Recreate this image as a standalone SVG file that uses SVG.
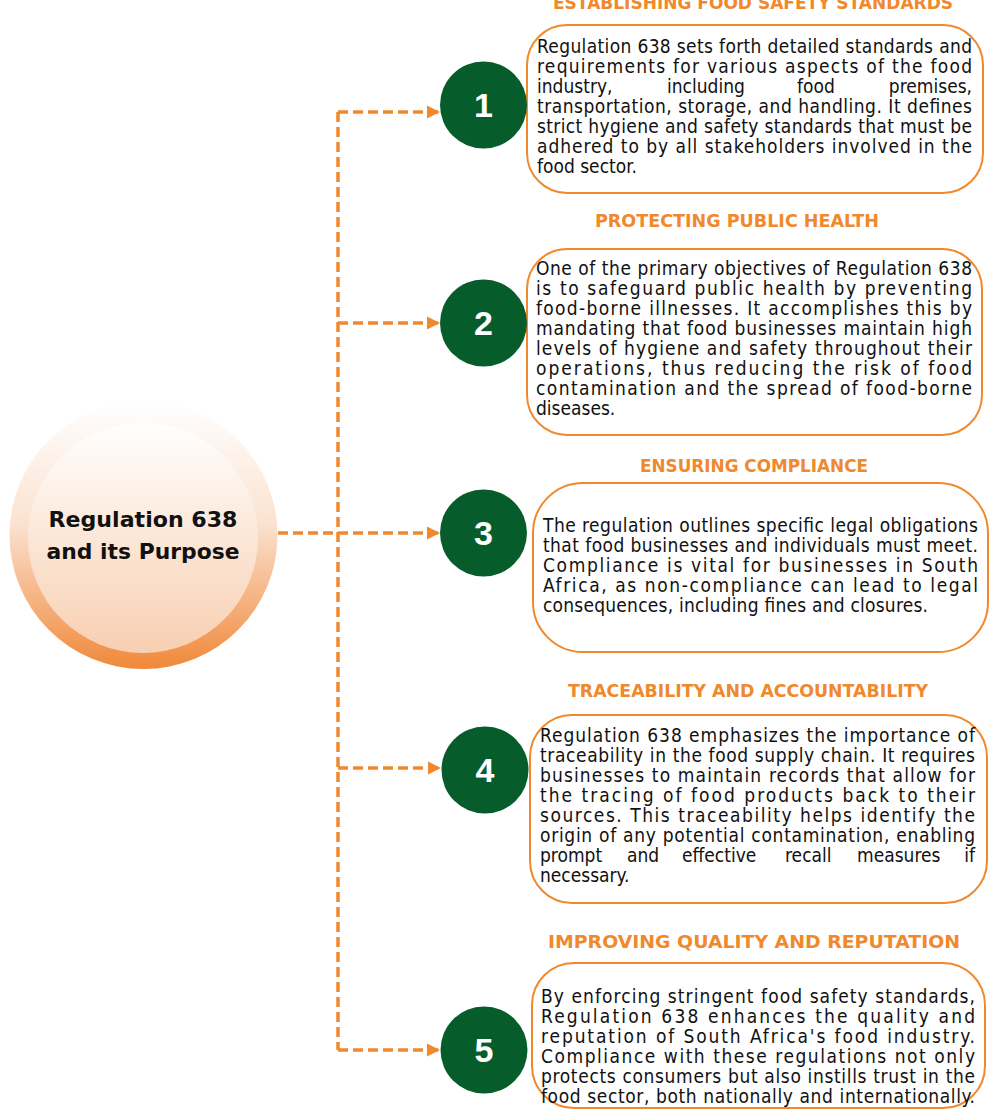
<svg xmlns="http://www.w3.org/2000/svg" width="990" height="1115" viewBox="0 0 990 1115">
<style>
.title{font-family:"DejaVu Sans","Verdana",sans-serif;font-weight:bold;font-size:17.5px;fill:#F0892C;text-anchor:middle}
.body{font-family:"DejaVu Sans","Verdana",sans-serif;font-stretch:condensed;font-size:19px;fill:#111}
.box{fill:#fff;stroke:#F0892C;stroke-width:2}
.num{fill:#075C2B}
.numt{font-family:"Liberation Sans","Arial",sans-serif;font-weight:bold;font-size:34px;fill:#fff;text-anchor:middle}
.conn{fill:none;stroke:#F0892C;stroke-width:3.5;stroke-dasharray:10 5}
.center{font-family:"DejaVu Sans","Verdana",sans-serif;font-weight:bold;font-size:22px;fill:#111;text-anchor:middle}
</style>
<defs>
<linearGradient id="gOuter" x1="0" y1="0" x2="0" y2="1">
<stop offset="0" stop-color="#FFFFFF"/>
<stop offset="0.45" stop-color="#FBE3D2"/>
<stop offset="1" stop-color="#F0883A"/>
</linearGradient>
<linearGradient id="gInner" x1="0" y1="0" x2="0" y2="1">
<stop offset="0" stop-color="#FFFFFF"/>
<stop offset="1" stop-color="#F8CFB1"/>
</linearGradient>
<marker id="arrow" viewBox="0 0 10 10" refX="10" refY="5" markerUnits="userSpaceOnUse" markerWidth="13" markerHeight="14" orient="auto">
<path d="M0,0 L10,5 L0,10 z" fill="#F0892C"/>
</marker>
</defs>

<g id="connectors">
<path class="conn" d="M338,112 V1050"/>
<path class="conn" d="M338,112 H440" marker-end="url(#arrow)"/>
<path class="conn" d="M338,323 H440" marker-end="url(#arrow)"/>
<path class="conn" d="M278,533 H440" marker-end="url(#arrow)"/>
<path class="conn" d="M338,768 H441" marker-end="url(#arrow)"/>
<path class="conn" d="M338,1050 H440" marker-end="url(#arrow)"/>
</g>

<g id="center-node">
<circle cx="143.5" cy="535" r="134" fill="url(#gOuter)"/>
<circle cx="143" cy="538" r="115" fill="url(#gInner)"/>
<text class="center" x="143" y="527" textLength="189" lengthAdjust="spacingAndGlyphs">Regulation 638</text>
<text class="center" x="143" y="559" textLength="193" lengthAdjust="spacingAndGlyphs">and its Purpose</text>
</g>

<g id="node-1">
<text class="title" x="753" y="9" textLength="400" lengthAdjust="spacingAndGlyphs">ESTABLISHING FOOD SAFETY STANDARDS</text>
<rect class="box" x="527" y="25" width="456" height="168" rx="40" ry="40"/>
<circle class="num" cx="483.5" cy="105" r="43.5"/>
<text class="numt" x="483.5" y="117">1</text>
<g class="body">
<text x="537" y="53" textLength="435" lengthAdjust="spacing">Regulation 638 sets forth detailed standards and</text>
<text x="537" y="73" textLength="435" lengthAdjust="spacing">requirements for various aspects of the food</text>
<text y="93"><tspan x="537">industry,</tspan><tspan x="667">including</tspan><tspan x="797">food</tspan><tspan x="972" text-anchor="end">premises,</tspan></text>
<text x="537" y="113" textLength="435" lengthAdjust="spacing">transportation, storage, and handling. It defines</text>
<text x="537" y="133" textLength="435" lengthAdjust="spacing">strict hygiene and safety standards that must be</text>
<text x="537" y="153" textLength="435" lengthAdjust="spacing">adhered to by all stakeholders involved in the</text>
<text x="537" y="173">food sector.</text>
</g>
</g>

<g id="node-2">
<text class="title" x="737" y="227" textLength="284" lengthAdjust="spacingAndGlyphs">PROTECTING PUBLIC HEALTH</text>
<rect class="box" x="527" y="249" width="455" height="186" rx="40" ry="40"/>
<circle class="num" cx="483.5" cy="323" r="43.5"/>
<text class="numt" x="483.5" y="335">2</text>
<g class="body">
<text x="536" y="275" textLength="436" lengthAdjust="spacing">One of the primary objectives of Regulation 638</text>
<text x="536" y="295" textLength="436" lengthAdjust="spacing">is to safeguard public health by preventing</text>
<text x="536" y="315" textLength="436" lengthAdjust="spacing">food-borne illnesses. It accomplishes this by</text>
<text x="536" y="335" textLength="436" lengthAdjust="spacing">mandating that food businesses maintain high</text>
<text x="536" y="355" textLength="436" lengthAdjust="spacing">levels of hygiene and safety throughout their</text>
<text x="536" y="375" textLength="436" lengthAdjust="spacing">operations, thus reducing the risk of food</text>
<text x="536" y="395" textLength="436" lengthAdjust="spacing">contamination and the spread of food-borne</text>
<text x="536" y="415">diseases.</text>
</g>
</g>

<g id="node-3">
<text class="title" x="754" y="472" textLength="228" lengthAdjust="spacingAndGlyphs">ENSURING COMPLIANCE</text>
<rect class="box" x="533" y="483" width="455" height="169" rx="50" ry="50"/>
<circle class="num" cx="483.5" cy="533" r="43.5"/>
<text class="numt" x="483.5" y="545">3</text>
<g class="body">
<text x="543" y="532" textLength="435" lengthAdjust="spacing">The regulation outlines specific legal obligations</text>
<text x="543" y="552" textLength="435" lengthAdjust="spacing">that food businesses and individuals must meet.</text>
<text x="543" y="572" textLength="435" lengthAdjust="spacing">Compliance is vital for businesses in South</text>
<text x="543" y="592" textLength="435" lengthAdjust="spacing">Africa, as non-compliance can lead to legal</text>
<text x="543" y="612" textLength="385" lengthAdjust="spacing">consequences, including fines and closures.</text>
</g>
</g>

<g id="node-4">
<text class="title" x="748" y="697" textLength="360" lengthAdjust="spacingAndGlyphs">TRACEABILITY AND ACCOUNTABILITY</text>
<rect class="box" x="530" y="715" width="457" height="188" rx="42" ry="42"/>
<circle class="num" cx="485" cy="770" r="43.5"/>
<text class="numt" x="485" y="782">4</text>
<g class="body">
<text x="540" y="742" textLength="435" lengthAdjust="spacing">Regulation 638 emphasizes the importance of</text>
<text x="540" y="762" textLength="435" lengthAdjust="spacing">traceability in the food supply chain. It requires</text>
<text x="540" y="782" textLength="435" lengthAdjust="spacing">businesses to maintain records that allow for</text>
<text x="540" y="802" textLength="435" lengthAdjust="spacing">the tracing of food products back to their</text>
<text x="540" y="822" textLength="435" lengthAdjust="spacing">sources. This traceability helps identify the</text>
<text x="540" y="842" textLength="435" lengthAdjust="spacing">origin of any potential contamination, enabling</text>
<text y="862"><tspan x="540">prompt</tspan><tspan x="627">and</tspan><tspan x="682">effective</tspan><tspan x="785">recall</tspan><tspan x="857">measures</tspan><tspan x="975" text-anchor="end">if</tspan></text>
<text x="540" y="882">necessary.</text>
</g>
</g>

<g id="node-5">
<text class="title" x="754" y="948" textLength="412" lengthAdjust="spacingAndGlyphs">IMPROVING QUALITY AND REPUTATION</text>
<rect class="box" x="532" y="963" width="453" height="145" rx="42" ry="42"/>
<circle class="num" cx="484" cy="1050" r="43.5"/>
<text class="numt" x="484" y="1062">5</text>
<g class="body">
<text x="541" y="1003" textLength="434" lengthAdjust="spacing">By enforcing stringent food safety standards,</text>
<text x="541" y="1023" textLength="434" lengthAdjust="spacing">Regulation 638 enhances the quality and</text>
<text x="541" y="1043" textLength="434" lengthAdjust="spacing">reputation of South Africa's food industry.</text>
<text x="541" y="1063" textLength="434" lengthAdjust="spacing">Compliance with these regulations not only</text>
<text x="541" y="1083" textLength="434" lengthAdjust="spacing">protects consumers but also instills trust in the</text>
<text x="541" y="1103" textLength="434" lengthAdjust="spacing">food sector, both nationally and internationally.</text>
</g>
</g>
</svg>
